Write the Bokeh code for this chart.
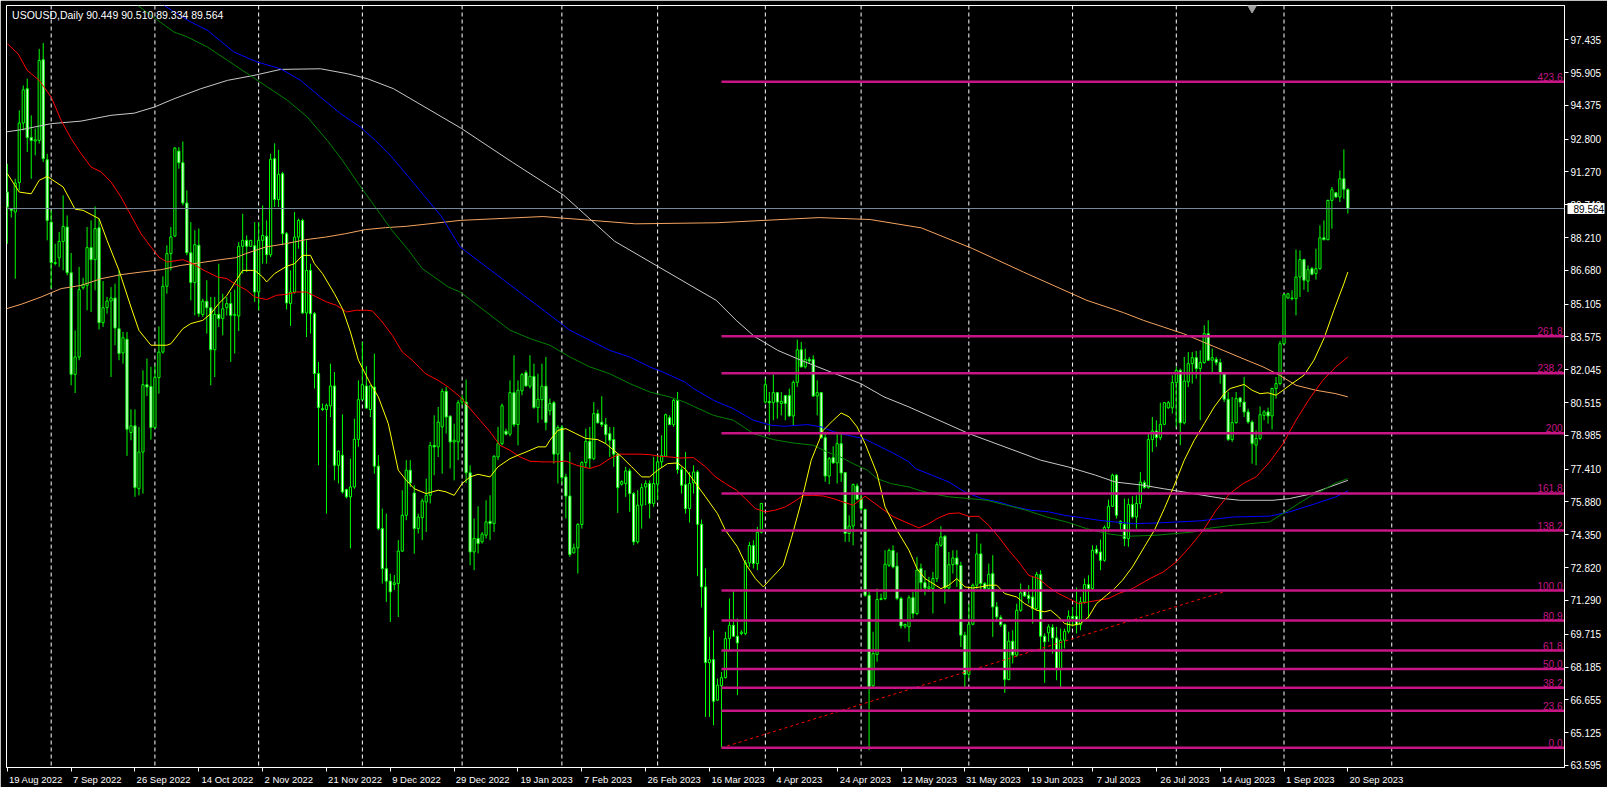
from bokeh.plotting import figure
from bokeh.models import Range1d, FixedTicker, PrintfTickFormatter, Span, Label, ColumnDataSource, LinearAxis
from bokeh.embed import file_html
from bokeh.resources import INLINE
from bokeh.core.properties import value

symbol_title = "USOUSD,Daily  90.449 90.510 89.334 89.564"
last_price = 89.564

date_labels = ["19 Aug 2022", "7 Sep 2022", "26 Sep 2022", "14 Oct 2022", "2 Nov 2022",
               "21 Nov 2022", "9 Dec 2022", "29 Dec 2022", "19 Jan 2023", "7 Feb 2023",
               "26 Feb 2023", "16 Mar 2023", "4 Apr 2023", "24 Apr 2023", "12 May 2023",
               "31 May 2023", "19 Jun 2023", "7 Jul 2023", "26 Jul 2023", "14 Aug 2023",
               "1 Sep 2023", "20 Sep 2023"]
date_bars = [0, 16, 32, 48, 64, 80, 96, 112, 128, 144, 160, 176, 192, 208, 224, 240,
             256, 272, 288, 304, 320, 336]
month_grid_bars = [11, 37, 63, 89, 114, 139, 163, 190, 214, 241, 267, 293, 320, 347]

price_ticks = [63.595, 65.125, 66.655, 68.185, 69.715, 71.290, 72.820, 74.350, 75.880,
               77.410, 78.985, 80.515, 82.045, 83.575, 85.105, 86.680, 88.210, 89.740,
               91.270, 92.800, 94.375, 95.905, 97.435]

opens = [
 90.33, 89.55, 89.40, 90.77, 93.55, 95.15, 92.87, 92.71, 92.74, 96.50,
 91.84, 88.93, 87.04, 87.26, 88.03, 88.70, 86.57, 81.83, 82.64, 85.87,
 85.98, 87.74, 87.18, 88.67, 84.24, 84.94, 85.25, 85.39, 83.96, 82.83,
 83.47, 79.12, 79.43, 76.50, 78.21, 81.35, 81.27, 79.35, 81.68, 82.87,
 85.94, 87.46, 88.28, 92.24, 91.70, 89.82, 87.50, 86.11, 87.85, 84.62,
 85.24, 84.94, 82.98, 84.63, 84.43, 84.94, 85.13, 84.58, 84.55, 87.80,
 88.08, 87.80, 87.83, 85.67, 88.08, 88.27, 87.41, 91.89, 89.98, 91.19,
 88.39, 85.13, 85.67, 88.23, 89.01, 84.69, 86.68, 84.66, 81.87, 80.23,
 80.19, 80.36, 81.29, 77.59, 78.06, 76.46, 76.12, 76.58, 78.80, 80.65,
 81.29, 80.19, 81.24, 77.55, 74.64, 72.77, 72.19, 72.03, 72.08, 73.59,
 75.26, 77.36, 76.30, 74.64, 75.15, 75.88, 76.19, 78.52, 78.45, 79.38,
 81.04, 79.88, 78.68, 78.68, 80.54, 80.54, 77.24, 73.55, 74.18, 74.02,
 74.33, 74.98, 74.87, 77.98, 78.60, 79.18, 79.04, 80.98, 79.49, 81.06,
 81.91, 81.28, 81.74, 80.28, 80.65, 81.28, 80.13, 80.51, 78.11, 79.35,
 77.05, 76.16, 73.51, 73.74, 74.83, 77.72, 78.71, 77.90, 80.00, 79.60,
 79.49, 79.07, 78.79, 78.11, 76.71, 76.74, 77.33, 76.27, 74.02, 75.73,
 76.58, 76.74, 75.81, 76.71, 77.75, 78.01, 79.81, 79.49, 80.62, 77.39,
 76.69, 75.57, 76.77, 77.28, 74.84, 71.92, 68.39, 68.53, 66.64, 67.31,
 67.69, 69.51, 70.13, 69.62, 69.75, 69.75, 73.04, 73.85, 73.01, 74.47,
 80.54, 80.57, 80.51, 80.98, 80.47, 80.84, 80.84, 79.89, 81.46, 82.98,
 82.18, 82.53, 82.52, 80.82, 80.98, 78.88, 77.09, 77.95, 77.70, 78.60,
 77.25, 74.41, 74.76, 76.63, 76.04, 75.53, 71.53, 67.31, 68.77, 71.33,
 71.38, 72.93, 73.62, 72.89, 71.38, 70.09, 70.06, 71.42, 70.68, 72.78,
 72.12, 71.84, 71.84, 72.31, 73.86, 74.28, 71.87, 72.96, 73.27, 72.92,
 69.67, 67.84, 70.18, 72.00, 73.46, 72.08, 71.84, 72.54, 70.99, 70.49,
 70.16, 67.60, 69.39, 68.74, 70.83, 71.72, 71.53, 71.45, 70.91, 72.50,
 69.62, 69.78, 70.03, 69.54, 68.07, 69.44, 69.85, 70.55, 70.55, 70.16,
 71.22, 72.03, 71.84, 73.68, 73.55, 73.16, 74.69, 75.68, 77.13, 74.87,
 74.84, 74.17, 75.77, 75.18, 75.81, 76.78, 76.55, 78.79, 79.19, 78.88,
 79.50, 80.27, 80.27, 81.45, 82.02, 79.57, 81.48, 82.33, 82.61, 82.10,
 82.38, 83.73, 82.49, 82.53, 82.38, 81.90, 80.67, 78.79, 79.58, 80.73,
 80.54, 80.08, 79.61, 78.53, 78.84, 79.92, 80.08, 79.89, 81.17, 81.40,
 83.26, 85.39, 85.39, 85.36, 86.37, 87.18, 86.18, 86.76, 86.53, 86.76,
 88.20, 88.11, 89.94, 90.30, 90.10, 90.95, 90.449]

highs = [
 91.65, 89.58, 90.95, 94.14, 95.30, 95.62, 93.91, 93.29, 97.01, 97.28,
 92.12, 89.48, 87.92, 88.47, 90.18, 89.24, 87.49, 83.88, 86.84, 86.34,
 88.70, 89.01, 89.66, 89.09, 86.18, 85.44, 85.90, 86.06, 86.68, 83.81,
 83.81, 80.20, 80.20, 79.38, 82.02, 82.57, 82.18, 82.25, 84.07, 86.40,
 87.85, 88.70, 92.43, 92.43, 92.69, 90.41, 88.93, 88.55, 88.63, 85.36,
 86.22, 85.44, 85.44, 86.99, 85.59, 85.44, 85.67, 85.78, 88.00, 89.32,
 88.31, 88.08, 88.93, 88.93, 89.71, 89.01, 92.12, 92.60, 92.30, 91.27,
 88.47, 86.68, 89.40, 89.09, 89.09, 88.08, 86.99, 84.74, 82.41, 80.47,
 80.47, 82.33, 81.94, 78.29, 79.97, 76.50, 77.90, 79.77, 81.55, 83.34,
 82.21, 81.32, 82.80, 78.06, 75.57, 75.34, 72.54, 72.47, 74.10, 76.43,
 77.83, 77.83, 76.66, 75.34, 76.04, 76.97, 78.68, 79.92, 80.31, 81.17,
 81.24, 79.92, 79.53, 80.62, 80.86, 81.59, 77.59, 75.11, 75.68, 74.48,
 75.96, 76.19, 78.06, 79.38, 80.47, 79.30, 81.55, 82.72, 81.55, 81.90,
 82.02, 82.72, 82.33, 81.86, 82.33, 82.64, 80.70, 80.59, 79.46, 79.46,
 77.20, 78.21, 73.94, 74.90, 77.78, 79.30, 79.38, 80.54, 80.19, 80.81,
 79.80, 79.38, 79.38, 78.14, 76.89, 77.52, 77.44, 76.35, 76.43, 76.74,
 76.89, 76.89, 77.98, 78.06, 78.99, 80.00, 79.92, 80.70, 81.01, 77.52,
 78.21, 77.28, 77.59, 77.36, 75.06, 72.78, 69.59, 69.90, 67.65, 67.96,
 69.83, 71.38, 71.77, 70.45, 69.90, 73.17, 74.02, 74.10, 74.72, 75.84,
 81.63, 81.01, 81.82, 81.01, 81.01, 80.86, 81.17, 81.55, 83.45, 83.34,
 83.03, 82.64, 82.72, 81.55, 81.01, 79.15, 77.98, 78.48, 79.15, 79.15,
 77.28, 75.26, 76.74, 76.74, 76.27, 75.57, 71.80, 69.83, 71.84, 71.61,
 73.63, 73.71, 73.86, 73.52, 71.46, 70.21, 71.53, 71.69, 73.32, 73.01,
 72.70, 72.39, 72.62, 74.02, 74.75, 74.33, 73.55, 73.63, 73.63, 73.09,
 69.83, 71.14, 72.08, 74.41, 73.94, 72.15, 73.01, 73.40, 71.22, 70.60,
 70.21, 69.83, 69.90, 71.14, 72.08, 71.77, 72.00, 72.39, 72.62, 72.70,
 69.75, 70.18, 70.18, 70.06, 69.98, 69.98, 70.83, 70.99, 71.89, 71.45,
 72.31, 72.46, 73.86, 73.86, 74.13, 74.79, 75.99, 77.20, 77.17, 75.03,
 76.04, 76.04, 76.15, 76.19, 77.28, 76.89, 79.14, 79.84, 79.69, 80.51,
 80.54, 80.59, 81.79, 82.18, 82.10, 82.64, 82.87, 82.87, 82.92, 82.95,
 84.12, 84.35, 83.03, 82.64, 82.56, 81.94, 81.01, 80.78, 81.01, 80.78,
 81.71, 80.23, 79.69, 79.22, 80.34, 80.16, 80.28, 81.21, 81.71, 83.39,
 85.59, 85.62, 85.75, 87.65, 87.61, 87.22, 86.91, 86.84, 87.69, 88.78,
 89.01, 89.98, 90.57, 90.33, 91.34, 92.32, 90.510]

lows = [
 87.92, 89.14, 86.29, 90.41, 93.21, 92.20, 90.95, 92.04, 92.59, 91.73,
 88.08, 85.83, 86.91, 86.84, 86.68, 86.45, 81.32, 80.96, 82.49, 85.78,
 84.82, 84.74, 85.75, 83.92, 84.04, 84.66, 81.71, 83.19, 82.49, 82.33,
 78.03, 78.76, 76.12, 76.19, 76.27, 80.82, 78.79, 79.30, 80.93, 82.80,
 85.59, 86.68, 88.24, 91.42, 89.71, 87.38, 85.28, 84.58, 84.51, 84.51,
 83.73, 81.32, 81.71, 84.04, 83.65, 84.58, 82.41, 82.80, 83.85, 86.53,
 86.60, 87.77, 85.21, 84.82, 86.99, 86.99, 87.30, 89.63, 89.63, 87.85,
 84.85, 84.09, 85.59, 87.69, 84.66, 83.57, 83.73, 81.17, 77.59, 80.12,
 75.34, 79.84, 76.89, 76.74, 76.27, 76.04, 73.71, 76.50, 78.45, 80.62,
 80.23, 79.84, 77.20, 74.56, 72.08, 71.22, 70.29, 71.77, 70.52, 73.55,
 75.03, 76.58, 73.47, 74.41, 74.10, 74.48, 75.81, 77.13, 77.98, 77.20,
 79.07, 77.44, 76.89, 77.83, 80.39, 76.77, 72.93, 72.70, 73.48, 73.94,
 74.18, 74.10, 74.48, 77.83, 78.52, 78.99, 78.94, 79.38, 78.52, 80.86,
 81.25, 81.17, 80.23, 79.57, 79.72, 79.22, 79.92, 77.67, 76.74, 76.74,
 75.11, 73.32, 73.48, 72.54, 74.64, 77.49, 77.44, 77.83, 79.54, 79.38,
 78.60, 77.98, 77.52, 75.37, 76.64, 76.12, 75.42, 73.87, 73.94, 74.64,
 75.73, 75.11, 75.65, 75.96, 77.49, 77.98, 79.46, 79.38, 77.20, 76.27,
 75.34, 74.92, 76.27, 72.42, 70.96, 65.86, 65.86, 65.47, 66.61, 64.42,
 67.65, 68.97, 69.59, 66.87, 69.67, 69.67, 72.85, 72.78, 72.70, 74.41,
 80.47, 78.99, 79.69, 79.77, 79.92, 79.69, 79.85, 79.46, 81.24, 82.15,
 82.10, 82.33, 80.78, 79.92, 78.83, 76.82, 76.71, 77.67, 76.74, 76.82,
 74.02, 74.02, 73.86, 75.96, 75.50, 71.46, 64.31, 67.26, 68.43, 71.30,
 71.30, 72.85, 72.78, 71.30, 69.98, 69.98, 69.36, 70.45, 70.60, 71.69,
 71.53, 71.69, 70.68, 72.15, 73.79, 71.14, 71.69, 72.54, 71.92, 69.12,
 67.18, 67.65, 70.13, 71.84, 71.77, 71.77, 71.77, 69.59, 70.29, 70.06,
 66.98, 67.57, 68.35, 68.66, 70.76, 71.45, 71.14, 70.21, 70.83, 68.97,
 67.45, 69.36, 68.81, 67.57, 67.18, 69.05, 69.75, 70.06, 69.75, 69.90,
 71.14, 70.45, 71.77, 73.44, 72.70, 73.09, 74.48, 75.65, 75.11, 74.56,
 73.82, 73.79, 75.11, 74.64, 75.57, 76.50, 76.50, 78.21, 78.45, 78.76,
 79.46, 80.23, 80.00, 79.38, 78.53, 79.50, 81.24, 81.40, 81.63, 79.69,
 82.33, 82.46, 81.87, 82.25, 81.40, 80.54, 78.73, 78.68, 79.53, 80.31,
 79.84, 79.53, 77.67, 77.59, 78.76, 79.69, 79.53, 79.26, 80.70, 81.32,
 83.23, 85.36, 85.28, 84.58, 85.44, 85.78, 85.67, 86.45, 86.25, 86.71,
 88.08, 88.08, 88.62, 90.05, 89.87, 90.02, 89.334]

closes = [
 89.63, 89.48, 90.75, 93.55, 95.10, 92.87, 92.74, 92.77, 96.47, 91.89,
 89.01, 87.04, 87.00, 88.03, 88.73, 86.57, 81.83, 82.64, 85.78, 86.03,
 87.74, 87.18, 88.63, 84.24, 84.94, 85.25, 85.39, 83.99, 82.80, 83.54,
 79.27, 79.43, 76.55, 78.21, 81.35, 81.24, 79.35, 81.68, 82.87, 85.94,
 87.46, 88.24, 92.38, 91.70, 89.82, 87.50, 86.11, 87.88, 84.66, 85.24,
 84.94, 82.98, 84.63, 84.43, 84.89, 85.13, 84.58, 84.63, 87.80, 88.08,
 87.80, 88.08, 85.67, 88.08, 88.31, 87.41, 91.86, 89.98, 91.16, 88.39,
 85.16, 85.67, 88.23, 89.01, 84.69, 86.68, 84.66, 81.87, 80.28, 80.19,
 80.39, 81.29, 77.59, 78.25, 76.35, 76.12, 76.58, 78.80, 80.65, 81.35,
 80.26, 81.29, 77.55, 74.64, 72.77, 72.19, 71.69, 72.11, 73.59, 75.26,
 77.36, 76.77, 74.64, 75.18, 75.93, 76.19, 78.52, 78.45, 79.61, 81.04,
 79.84, 78.68, 78.76, 80.51, 80.70, 77.24, 73.55, 74.18, 73.94, 74.38,
 74.95, 74.87, 78.01, 78.60, 80.37, 79.04, 80.98, 79.49, 81.09, 81.82,
 81.29, 81.74, 80.28, 80.67, 81.28, 79.58, 80.47, 78.11, 79.35, 77.02,
 76.16, 73.43, 73.74, 74.83, 77.72, 78.71, 77.90, 80.00, 79.57, 79.49,
 79.02, 78.76, 78.11, 76.55, 76.83, 77.33, 76.27, 74.02, 75.73, 76.55,
 76.74, 75.81, 76.74, 77.75, 78.04, 79.95, 79.49, 80.62, 77.39, 76.66,
 75.57, 76.74, 77.28, 74.84, 71.92, 68.39, 68.53, 66.59, 67.34, 67.69,
 69.51, 70.13, 69.62, 69.31, 69.81, 73.04, 73.85, 73.01, 74.47, 75.81,
 81.35, 80.51, 80.98, 80.54, 80.57, 80.47, 79.89, 81.46, 82.98, 82.18,
 82.53, 82.46, 80.82, 80.98, 78.88, 77.09, 77.90, 77.70, 78.60, 77.23,
 74.41, 74.76, 76.69, 76.01, 75.57, 71.53, 67.26, 68.81, 71.33, 71.38,
 72.98, 73.62, 72.85, 71.38, 70.10, 70.17, 71.42, 70.68, 72.70, 72.12,
 71.87, 71.92, 72.31, 73.89, 74.25, 71.87, 72.96, 73.27, 72.96, 69.67,
 67.84, 70.18, 72.00, 73.46, 72.08, 71.84, 72.51, 70.99, 70.52, 70.16,
 67.60, 69.39, 68.74, 70.83, 71.64, 71.50, 71.38, 70.91, 72.50, 69.62,
 69.36, 70.06, 69.54, 68.07, 69.44, 69.85, 70.55, 70.45, 70.16, 71.22,
 72.03, 71.84, 73.63, 73.50, 73.16, 74.69, 75.68, 77.13, 75.26, 74.98,
 74.17, 75.76, 75.18, 75.81, 76.81, 76.55, 78.79, 79.19, 78.88, 79.50,
 80.51, 80.51, 81.45, 82.02, 79.57, 81.52, 82.33, 82.61, 82.10, 82.38,
 83.73, 82.49, 82.61, 82.38, 81.90, 80.67, 78.79, 79.58, 80.70, 80.54,
 80.08, 79.61, 78.60, 78.84, 79.95, 80.08, 79.89, 81.17, 81.40, 83.26,
 85.55, 85.59, 85.36, 86.37, 87.18, 86.22, 86.71, 86.50, 86.76, 88.20,
 88.11, 89.94, 90.44, 90.10, 90.95, 90.46, 89.564]

# moving averages (bar index, price)
ma_yellow_x = [0, 3, 6, 8, 10, 14, 17, 19, 23, 25, 28, 31, 33, 36, 40, 41, 44, 46, 49, 51, 53, 55, 57,
               59, 62, 64, 65, 67, 70, 72, 74, 76, 77, 79, 82, 84, 86, 88, 91, 93, 95.5, 98, 100, 102,
               105, 108, 110, 112, 114, 116, 118, 121, 123, 126, 128, 130, 133, 135, 136, 138, 140,
               142.5, 145, 148, 150, 153, 154, 156.5, 159, 161, 163, 165.5, 168, 170, 172, 175, 178,
               180, 183, 185, 187.5, 189.5, 191, 193, 194.5, 196.5, 199, 201.5, 204.5, 207, 209, 211,
               213, 215, 218, 220, 223, 226, 228, 230, 232, 234, 236, 238, 240, 242, 244, 246, 248,
               250, 253, 255, 258, 260, 261.5, 263.5, 265, 267, 269, 271, 273, 275.5, 277.5, 279.5,
               282, 285, 287.5, 290, 292.5, 295, 297.5, 300, 302.5, 305, 306.5, 308.5, 310, 312, 314,
               316, 318, 319.75, 322, 325, 327.5, 330, 332.5, 335, 336]
ma_yellow_y = [91.19, 90.33, 90.25, 90.88, 91.06, 90.57, 89.53, 89.48, 89.09, 88.08, 86.68, 84.97,
               83.88, 83.19, 83.19, 83.26, 83.96, 84.20, 84.35, 84.66, 85.13, 85.50, 86.10, 86.68,
               86.68, 86.37, 86.14, 86.53, 86.87, 86.99, 87.38, 87.38, 86.99, 86.53, 85.59, 84.89,
               83.81, 82.49, 81.40, 80.78, 79.53, 77.36, 76.89, 76.50, 76.27, 76.43, 76.35, 76.19,
               76.74, 77.05, 77.17, 77.05, 77.52, 77.90, 78.06, 78.21, 78.45, 78.45, 78.76, 79.22,
               79.30, 79.07, 78.84, 78.79, 78.60, 78.14, 77.98, 77.52, 77.05, 77.05, 77.36, 77.67,
               77.70, 77.40, 76.89, 76.12, 75.34, 74.56, 73.79, 73.01, 72.31, 71.92, 72.23, 72.62,
               72.93, 74.17, 75.88, 77.83, 79.22, 79.69, 80.03, 79.85, 79.38, 78.60, 77.20, 75.65,
               74.56, 73.63, 72.78, 72.31, 72.08, 71.84, 72.00, 72.31, 71.92, 71.87, 71.92, 72.00,
               72.00, 71.61, 71.45, 71.14, 70.83, 70.76, 70.83, 70.52, 70.21, 70.13, 70.21, 70.52,
               71.14, 71.53, 71.84, 72.23, 72.85, 73.79, 74.56, 75.57, 76.66, 77.83, 78.76, 79.53,
               80.31, 80.93, 81.17, 81.28, 81.36, 81.09, 80.93, 80.97, 80.86, 81.09, 81.40, 81.79,
               82.49, 83.50, 84.82, 86.06, 86.60]

ma_red_x = [0, 2.7, 5, 8, 11, 13.5, 16, 18.5, 21, 23.5, 26, 28.5, 31, 33.5, 36, 38, 40, 43, 44, 46.5,
            49.3, 52.7, 55, 57, 60, 62, 65, 67.5, 70, 72.5, 75, 77.5, 80, 82.5, 85, 87.5, 90, 91.5,
            94, 96.5, 99, 101.5, 104.75, 108, 110.5, 113.5, 116, 118.5, 121, 123.5, 126, 128.5, 131,
            134.3, 137.7, 140, 142.7, 146, 148.5, 151, 153.5, 156, 158.5, 161, 163.5, 166, 168.5,
            172, 175, 177.5, 180, 182.75, 185, 187.5, 190, 192.5, 195, 197.75, 199.5, 202, 204.5,
            207, 209.5, 212, 215, 219, 222, 226, 228.5, 231, 233.5, 236, 238.5, 241, 243.5, 246,
            248.5, 251, 253.5, 256, 258.5, 261, 263.5, 266, 268.5, 271, 273.5, 276, 278.5, 281, 282,
            286.4, 289.75, 293, 296.4, 299.75, 303, 306.4, 309.75, 313, 316.4, 319.75, 323, 326.4,
            329.75, 333, 336]
ma_red_y = [97.25, 96.78, 96.00, 95.54, 94.76, 93.67, 92.82, 92.12, 91.50, 91.27, 90.80, 90.10, 89.24,
            88.39, 87.77, 87.30, 87.07, 87.15, 87.18, 86.99, 86.68, 86.37, 86.30, 86.06, 85.75, 85.44,
            85.32, 85.52, 85.56, 85.67, 85.67, 85.44, 85.21, 85.05, 84.74, 84.82, 84.82, 84.79, 84.27,
            83.65, 82.87, 82.49, 81.87, 81.55, 81.24, 80.78, 80.23, 79.69, 79.15, 78.52, 78.29, 77.98,
            77.78, 77.75, 77.75, 77.79, 77.59, 77.44, 77.59, 77.90, 78.11, 78.11, 78.11, 78.09, 78.01,
            77.98, 77.93, 77.95, 77.52, 77.05, 76.74, 76.43, 76.04, 75.57, 75.42, 75.50, 75.65, 75.96,
            76.19, 76.19, 76.16, 76.04, 75.88, 75.73, 76.15, 75.60, 75.20, 74.87, 74.67, 74.87, 75.15,
            75.34, 75.37, 75.21, 75.21, 74.79, 74.25, 73.63, 73.09, 72.46, 72.31, 71.92, 71.61, 71.38,
            71.14, 71.22, 71.30, 71.38, 71.61, 71.77, 71.84, 72.31, 72.62, 73.09, 73.79, 74.56, 75.50,
            76.27, 76.74, 77.05, 77.75, 78.60, 79.69, 80.70, 81.56, 82.18, 82.64]

ma_green_x = [32.7, 37.7, 41.8, 45.2, 50.2, 55.2, 60.2, 65.2, 70.2, 75.2, 80.2, 84, 88, 92.25, 96.4,
              100.6, 104, 107, 110.6, 113.5, 126, 131, 136, 141, 146, 151, 156, 161, 166, 169.75,
              172, 177, 182, 187, 192, 197, 202, 205.5, 208.8, 212, 215.6, 218, 221.4, 226, 228.5,
              231.75, 236, 241, 245.5, 250.5, 255.5, 260.5, 265.5, 270.5, 275.5, 280.5, 288, 297.25,
              300.6, 307.25, 316.4, 319.75, 323, 326.4, 329.75, 333, 336]
ma_green_y = [99.03, 98.34, 97.79, 97.56, 97.09, 96.47, 95.85, 95.23, 94.61, 93.83, 92.74, 91.81,
              90.72, 89.63, 88.55, 87.61, 86.76, 86.37, 85.90, 85.67, 83.89, 83.50, 83.19, 82.64,
              82.18, 81.86, 81.40, 81.01, 80.78, 80.54, 80.34, 79.92, 79.69, 79.07, 78.79, 78.63,
              78.53, 78.21, 77.98, 77.67, 77.36, 76.97, 76.74, 76.58, 76.43, 76.27, 76.12, 76.04,
              75.96, 75.73, 75.49, 75.18, 74.95, 74.64, 74.41, 74.28, 74.33, 74.48, 74.64, 74.80,
              74.95, 75.34, 75.73, 76.12, 76.43, 76.77, 76.97]

ma_blue_x = [39.3, 45.2, 50.2, 56.8, 62.7, 68.5, 73.5, 78.5, 83.5, 88.5, 92.25, 96.4, 100.6, 104.75,
             108.9, 113.5, 141, 146, 151, 156, 161, 164.3, 169.75, 172, 177, 182, 187, 191.4, 194.75,
             200.6, 204, 207.25, 210.6, 214.75, 218.9, 222.25, 226, 227.6, 231.75, 236, 240, 244.25,
             248.5, 252.6, 256.8, 261, 265, 269.25, 273.5, 277.6, 282.25, 288, 298.9, 307.25, 316.4,
             321.4, 328, 333, 336]
ma_blue_y = [99.03, 98.34, 97.87, 96.86, 96.39, 96.08, 95.54, 94.76, 93.99, 93.36, 92.74, 91.96, 91.03,
             90.10, 89.17, 87.77, 83.89, 83.42, 82.95, 82.64, 82.18, 81.94, 81.48, 81.17, 80.62, 80.23,
             79.69, 79.46, 79.41, 79.49, 79.38, 79.15, 78.99, 78.83, 78.45, 78.14, 77.75, 77.44, 77.13,
             76.81, 76.35, 76.04, 75.88, 75.65, 75.49, 75.42, 75.26, 75.15, 75.03, 74.95, 74.87, 74.90,
             75.00, 75.18, 75.22, 75.42, 75.81, 76.12, 76.40]

ma_silver_x = [-1.5, 3.5, 11, 18.5, 26, 31.8, 36.8, 41.8, 48.5, 55.2, 61.8, 68.5, 78.5, 85.2, 90.2,
               96.8, 113.8, 126.6, 139.4, 152.2, 177.7, 182.7, 187.25, 193.1, 198.9, 206.4, 213.9,
               219.75, 226, 241, 259, 266, 272.75, 277.75, 284.75, 289.75, 294.75, 299.75, 304.75,
               308.9, 317.25, 321.4, 326.4, 331.4, 336]
ma_silver_y = [93.10, 93.24, 93.52, 93.64, 93.91, 94.01, 94.29, 94.68, 95.15, 95.54, 95.77, 96.05,
               96.08, 95.85, 95.62, 95.15, 93.30, 91.72, 90.19, 88.04, 85.28, 84.35, 83.60, 82.95,
               82.49, 81.94, 81.40, 80.78, 80.31, 79.07, 77.83, 77.51, 77.13, 76.81, 76.66, 76.50,
               76.35, 76.19, 76.04, 75.96, 75.96, 76.04, 76.24, 76.58, 76.89]

ma_orange_x = [-1.5, 3.5, 8.5, 13.5, 18.5, 23.5, 28.5, 33.5, 38.5, 43.5, 48.5, 53.5, 57.25, 59.75,
               64.75, 69.75, 74.75, 79.75, 84.75, 89.75, 94.75, 99.75, 104.75, 113.5, 134.3, 157.4,
               177.9, 203.5, 216.3, 229.1, 241.9, 254.7, 270.6, 279.75, 284.75, 289.75, 294.75,
               299.75, 304.75, 309.75, 314.75, 318.9, 323, 328, 333, 336]
ma_orange_y = [84.82, 85.10, 85.44, 85.83, 85.98, 86.29, 86.48, 86.60, 86.71, 86.91, 87.04, 87.18,
               87.27, 87.46, 87.77, 87.92, 88.11, 88.23, 88.39, 88.58, 88.67, 88.73, 88.83, 89.01,
               89.19, 88.85, 88.90, 89.14, 89.05, 88.66, 87.70, 86.60, 85.28, 84.71, 84.35, 84.04,
               83.73, 83.34, 82.95, 82.56, 82.18, 81.79, 81.32, 81.09, 80.93, 80.78]

fib_labels = ["0.0", "23.6", "38.2", "50.0", "61.8", "80.9", "100.0", "138.2", "161.8", "200",
              "238.2", "261.8", "423.6"]
fib_prices = [64.42, 66.15, 67.22, 68.09, 68.95, 70.35, 71.75, 74.55, 76.28, 79.08, 81.88, 83.61, 95.47]
fib_start_bar = 179
trend_x = [179, 305]
trend_y = [64.42, 71.70]
shift_marker_bar = 312

# ---------------------------------------------------------------- layout
X_START, X_END = -0.2, 390.3
Y_LOW, Y_HIGH = 63.50, 99.03
FONT = "Liberation Sans"
DATE_FONT_PX = 9.5

bars = list(range(len(closes)))
src = ColumnDataSource(dict(
    x=bars, h=highs, l=lows,
    top=[max(o, c) for o, c in zip(opens, closes)],
    bot=[min(o, c) for o, c in zip(opens, closes)],
    fill=["#000000" if c >= o else "#FFFFFF" for o, c in zip(opens, closes)],
))

p = figure(width=1607, height=787, output_backend="svg", toolbar_location=None,
           x_range=Range1d(X_START, X_END), y_range=Range1d(Y_LOW, Y_HIGH),
           y_axis_location="right", background_fill_color="black", border_fill_color="black",
           outline_line_color="white", min_border_left=6, min_border_top=5,
           min_border_right=39, min_border_bottom=20)
p.xgrid.visible = False
p.ygrid.visible = False

for b in month_grid_bars:
    p.add_layout(Span(location=b, dimension="height", line_color="white",
                      line_dash="4 3", line_width=1, level="underlay"))

p.segment(x0="x", y0="h", x1="x", y1="l", source=src, line_color="#00FF00", line_width=1)
p.vbar(x="x", width=0.55, top="top", bottom="bot", source=src,
       fill_color="fill", line_color="#00FF00", line_width=1)

for xs, ys, col in [(ma_orange_x, ma_orange_y, "#F4A460"),
                    (ma_silver_x, ma_silver_y, "#C8C8C8"),
                    (ma_blue_x, ma_blue_y, "#0000FF"),
                    (ma_green_x, ma_green_y, "#008000"),
                    (ma_red_x, ma_red_y, "#FF0000"),
                    (ma_yellow_x, ma_yellow_y, "#FFFF00")]:
    p.line(xs, ys, line_color=col, line_width=1)

p.line(trend_x, trend_y, line_color="#FF0000", line_dash="3 3", line_width=1)

nf = len(fib_prices)
p.segment(x0=[fib_start_bar] * nf, y0=fib_prices, x1=[X_END] * nf, y1=fib_prices,
          line_color="#C71585", line_width=2.5)
p.text(x=[X_END - 0.5] * nf, y=fib_prices, text=fib_labels, text_align="right",
       text_baseline="bottom", text_color="#C71585", text_font=value(FONT),
       text_font_size="10px", y_offset=-1)

p.add_layout(Span(location=last_price, dimension="width", line_color="#778899", line_width=1))

p.scatter([shift_marker_bar], [98.92], marker="inverted_triangle", size=9,
          fill_color="#A0A0A0", line_color="#A0A0A0")

p.add_layout(Label(x=1.2, y=98.85, text=symbol_title, text_color="white", text_font=FONT,
                   text_font_size="10.5px", text_baseline="top"))

# right price axis
ya = p.yaxis[0]
ya.ticker = FixedTicker(ticks=price_ticks)
ya.formatter = PrintfTickFormatter(format="%.3f")
ya.axis_line_color = "white"
ya.major_tick_line_color = "white"
ya.major_tick_out = 4
ya.major_tick_in = 0
ya.minor_tick_line_color = None
ya.major_label_text_color = "white"
ya.major_label_text_font = FONT
ya.major_label_text_font_size = "10px"
ya.major_label_standoff = 2

# current-price marker: a second (outer) price scale whose only tick is drawn inward as a
# white box, with its label in black on top of it
cur_axis = LinearAxis(ticker=FixedTicker(ticks=[last_price]),
                      formatter=PrintfTickFormatter(format="%.3f"),
                      axis_line_color=None, minor_tick_line_color=None,
                      major_tick_line_color="white", major_tick_line_width=11,
                      major_tick_out=0, major_tick_in=37,
                      major_label_text_color="black", major_label_text_font=FONT,
                      major_label_text_font_size="10px", major_label_standoff=-31)
p.add_layout(cur_axis, "right")

# bottom date axis: label text starts just right of its tick mark
char_w = 5.1 * DATE_FONT_PX / 10
centers = [round(b + (2 + len(t) * char_w / 2) / 4, 2) for b, t in zip(date_bars, date_labels)]
xa = p.xaxis[0]
xa.ticker = FixedTicker(ticks=centers, minor_ticks=date_bars)
xa.major_label_overrides = {c: t for c, t in zip(centers, date_labels)}
xa.axis_line_color = "white"
xa.major_tick_line_color = None
xa.major_tick_out = 0
xa.major_tick_in = 0
xa.minor_tick_line_color = "white"
xa.minor_tick_out = 4
xa.minor_tick_in = 0
xa.major_label_text_color = "white"
xa.major_label_text_font = FONT
xa.major_label_text_font_size = f"{DATE_FONT_PX}px"
xa.major_label_standoff = 2

html = file_html(p, INLINE)
html = html.replace("<body>", '<body style="background-color:#000000;">', 1)
open("out.html", "w").write(html)
